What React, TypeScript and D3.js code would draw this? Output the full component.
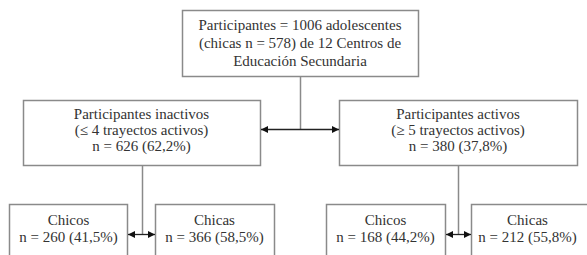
import React from 'react';
import * as d3 from 'd3';

// node labels (one array per box, lines of text)
const topLabel = ['Participantes = 1006 adolescentes', '(chicas n = 578) de 12 Centros de', 'Educación Secundaria'];
const inactiveLabel = ['Participantes inactivos', '(≤ 4 trayectos activos)', 'n = 626 (62,2%)'];
const activeLabel = ['Participantes activos', '(≥ 5 trayectos activos)', 'n = 380 (37,8%)'];
const inactiveBoys = ['Chicos', 'n = 260 (41,5%)'];
const inactiveGirls = ['Chicas', 'n = 366 (58,5%)'];
const activeBoys = ['Chicos', 'n = 168 (44,2%)'];
const activeGirls = ['Chicas', 'n = 212 (55,8%)'];

const W = 587;
const H = 255;
const FONT = 'Liberation Serif, Times New Roman, serif';

interface Box {
  id: string;
  lines: string[];
  x0: number;
  x1: number;
  y0: number;
  y1: number;
  tx: number;
  ty: number; // first line baseline
  lh: number;
}

const boxes: Box[] = [
  { id: 'top', lines: topLabel, x0: 182, x1: 418, y0: 10, y1: 76, tx: 300, ty: 30, lh: 18 },
  { id: 'inact', lines: inactiveLabel, x0: 23, x1: 260, y0: 100, y1: 165, tx: 141.5, ty: 119, lh: 16 },
  { id: 'act', lines: activeLabel, x0: 339, x1: 577, y0: 100, y1: 165, tx: 458, ty: 119, lh: 16 },
  { id: 'ib', lines: inactiveBoys, x0: 9, x1: 127, y0: 204, y1: 275, tx: 68.5, ty: 225, lh: 17 },
  { id: 'ig', lines: inactiveGirls, x0: 155, x1: 274, y0: 204, y1: 275, tx: 214.5, ty: 225, lh: 17 },
  { id: 'ab', lines: activeBoys, x0: 326, x1: 445, y0: 204, y1: 275, tx: 385.5, ty: 225, lh: 17 },
  { id: 'ag', lines: activeGirls, x0: 471, x1: 595, y0: 204, y1: 275, tx: 527.5, ty: 225, lh: 17 },
];

const connectors: [number, number][][] = [
  [[300.5, 77], [300.5, 129.5]],
  [[142.5, 166], [142.5, 234.5]],
  [[458.5, 166], [458.5, 234.5]],
];

const arrows: [number, number][][] = [
  [[261, 129.5], [339, 129.5]],
  [[128, 234.5], [155, 234.5]],
  [[446, 234.5], [471, 234.5]],
];

const line = d3.line<[number, number]>();

const App: React.FC = () => (
  <svg
    width={W}
    height={H}
    style={{ position: 'absolute', left: 0, top: 0, display: 'block', background: '#fff' }}
  >
    <defs>
      <marker
        id="head"
        viewBox="0 0 10 10"
        refX={10}
        refY={5}
        markerUnits="userSpaceOnUse"
        markerWidth={8}
        markerHeight={7}
        orient="auto-start-reverse"
      >
        <path d="M0,0L10,5L0,10z" fill="#111" />
      </marker>
    </defs>
    <rect width={W} height={H} fill="#fff" />

    {boxes.map(b => (
      <g key={b.id}>
        <rect
          x={b.x0 + 0.5}
          y={b.y0 + 0.5}
          width={b.x1 - b.x0}
          height={b.y1 - b.y0}
          fill="#fff"
          stroke="#8a8a8a"
          strokeWidth={1.5}
        />
        <text textAnchor="middle" fill="#333" fontSize={15} style={{ fontFamily: FONT }}>
          {b.lines.map((l, i) => (
            <tspan key={i} x={b.tx} y={b.ty + i * b.lh}>
              {l}
            </tspan>
          ))}
        </text>
      </g>
    ))}

    {connectors.map((c, i) => (
      <path key={`c${i}`} d={line(c) ?? ''} fill="none" stroke="#8a8a8a" strokeWidth={1.5} />
    ))}

    {arrows.map((a, i) => (
      <path
        key={`a${i}`}
        d={line(a) ?? ''}
        fill="none"
        stroke="#222"
        strokeWidth={1.3}
        markerStart="url(#head)"
        markerEnd="url(#head)"
      />
    ))}
  </svg>
);

export default App;
